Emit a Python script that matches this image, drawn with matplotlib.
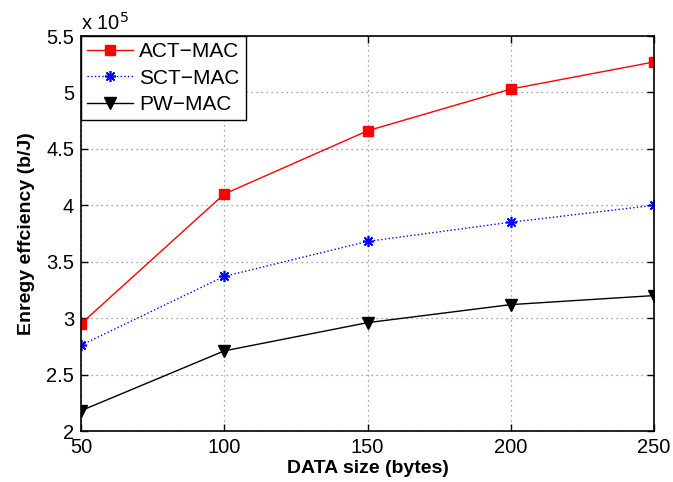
import numpy as np
import matplotlib
matplotlib.use('Agg')
import matplotlib.pyplot as plt

plt.rcParams['font.family'] = ['Liberation Sans', 'DejaVu Sans']

# data size (bytes)
data_size = [50, 100, 150, 200, 250]
# energy efficiency, in units of 1e5 b/J
act_mac = [2.95, 4.10, 4.66, 5.03, 5.27]
sct_mac = [2.76, 3.37, 3.68, 3.85, 4.00]
pw_mac = [2.18, 2.71, 2.96, 3.12, 3.20]

x_ticks = [50, 100, 150, 200, 250]
y_ticks = [2, 2.5, 3, 3.5, 4, 4.5, 5, 5.5]
y_ticklabels = ['2', '2.5', '3', '3.5', '4', '4.5', '5', '5.5']

fig = plt.figure(figsize=(6.73, 4.82), dpi=100)
ax = fig.add_axes([0.1204, 0.1058, 0.8514, 0.8195])

ax.plot(data_size, act_mac, color='red', lw=1, marker='s', ms=7,
        mfc='red', mec='red', label='ACT\u2212MAC')
ax.plot(data_size, sct_mac, color='blue', lw=1, ls=':', marker=(8, 2, 0), ms=8,
        mfc='blue', mec='blue', mew=1.2, label='SCT\u2212MAC')
ax.plot(data_size, pw_mac, color='black', lw=1, marker='v', ms=8,
        mfc='black', mec='black', label='PW\u2212MAC')

ax.set_xlim(50, 250)
ax.set_ylim(2, 5.5)
ax.set_xticks(x_ticks)
ax.set_yticks(y_ticks)
ax.set_yticklabels(y_ticklabels)
ax.tick_params(direction='in', labelsize=14.5, length=5, width=1,
               top=True, right=True, pad=5)
ax.grid(True, ls=(0, (1, 3)), color='#888888', lw=0.9)
for s in ax.spines.values():
    s.set_linewidth(1.2)

ax.text(0.0, 1.005, r'x 10$^5$', transform=ax.transAxes, fontsize=14.5,
        ha='left', va='bottom')

ax.set_xlabel('DATA size (bytes)', fontsize=14, fontweight='bold', labelpad=2)
ax.set_ylabel('Enregy effciency (b/J)', fontsize=14, fontweight='bold', labelpad=8)

leg = ax.legend(loc='upper left', fontsize=15, frameon=True, fancybox=False,
                edgecolor='black', framealpha=1, borderaxespad=0,
                handlelength=2.2, handletextpad=0.3, labelspacing=0.35,
                borderpad=0.3)
leg.get_frame().set_linewidth(1)

fig.savefig('out.png', dpi=100)
